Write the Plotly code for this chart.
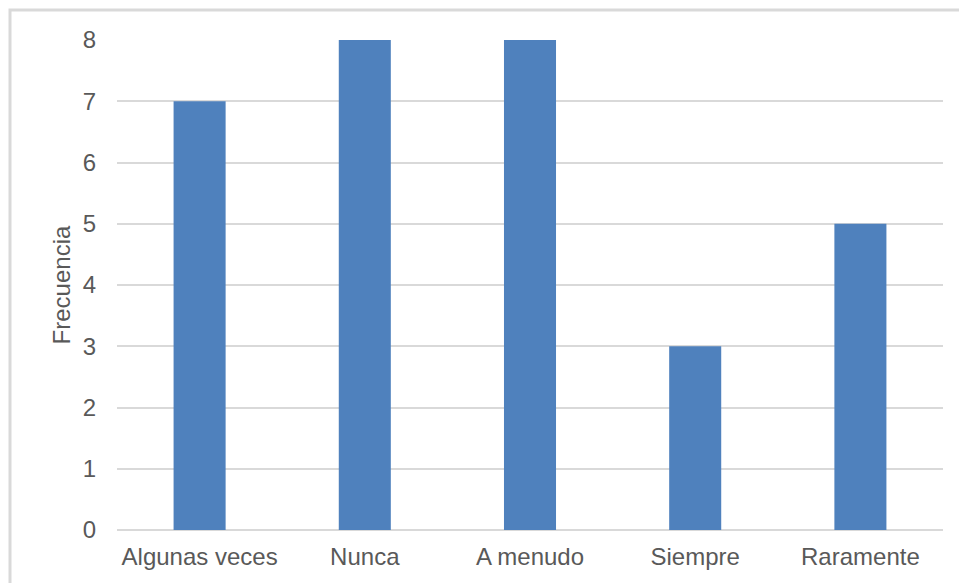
import plotly.graph_objects as go

# Frequency of each response category
categorias = ["Algunas veces", "Nunca", "A menudo", "Siempre", "Raramente"]
frecuencias = [7, 8, 8, 3, 5]
y_ticks = [0, 1, 2, 3, 4, 5, 6, 7, 8]

text_color = "#595959"
grid_color = "#D9D9D9"
font_family = "Liberation Sans, Arial, sans-serif"
font_size = 24

fig = go.Figure(
    go.Bar(
        x=categorias,
        y=frecuencias,
        marker=dict(color="#4F81BD", line=dict(width=0)),
        width=0.315,
    )
)

fig.update_layout(
    width=959,
    height=583,
    margin=dict(l=117, r=16, t=40, b=53),
    paper_bgcolor="white",
    plot_bgcolor="white",
    showlegend=False,
    font=dict(family=font_family, size=font_size, color=text_color),
    shapes=[
        # outer chart frame
        dict(
            type="rect",
            xref="paper",
            yref="paper",
            x0=(10 - 117) / 826,
            x1=1.2,
            y0=-0.3,
            y1=(530 - 10) / 490,
            line=dict(color=grid_color, width=3),
            fillcolor="rgba(0,0,0,0)",
            layer="below",
        )
    ],
)

fig.update_xaxes(
    showgrid=False,
    showline=False,
    ticks="",
    ticklabelstandoff=10,
    tickfont=dict(size=font_size, color=text_color),
)

fig.update_yaxes(
    range=[0, 8],
    tickvals=y_ticks,
    showgrid=True,
    gridcolor=grid_color,
    gridwidth=2,
    zeroline=True,
    zerolinecolor=grid_color,
    zerolinewidth=2,
    showline=False,
    ticks="",
    ticklabelstandoff=20,
    tickfont=dict(size=font_size, color=text_color),
    title=dict(text="Frecuencia", font=dict(size=font_size, color=text_color), standoff=5),
)

fig.write_html("out.html")
